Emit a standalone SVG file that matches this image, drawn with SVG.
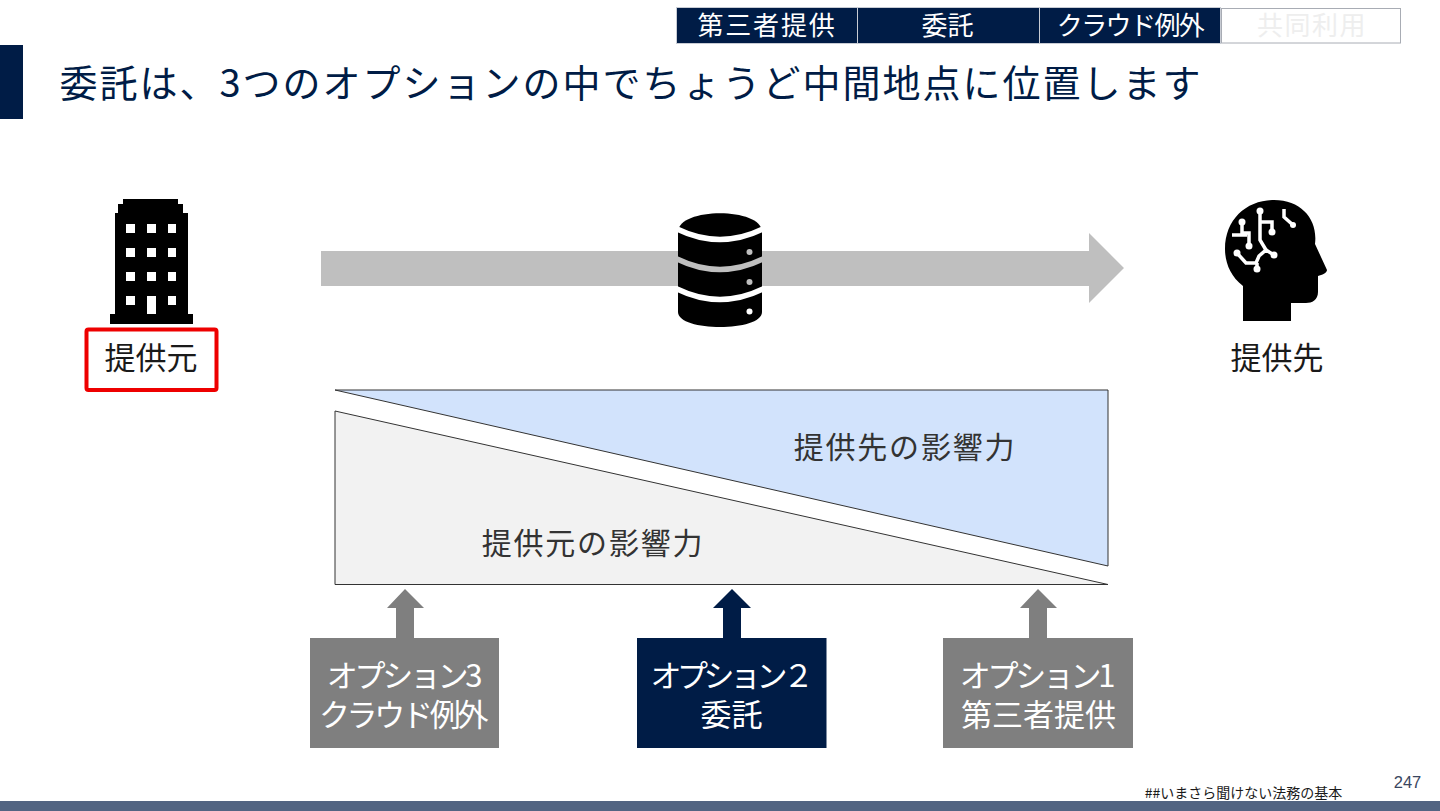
<svg xmlns="http://www.w3.org/2000/svg" width="1440" height="811" viewBox="0 0 1440 811">
<style>
text{font-family:"Noto Sans CJK JP","Liberation Sans",sans-serif;text-anchor:middle}
.tab{fill:#001c46;stroke:#c8ccd4;stroke-width:1}
.tt{fill:#fff;font-size:26px}
.box{font-size:31px;fill:#fff}
.kana{letter-spacing:-3.300px}
.lbl{font-size:31px;fill:#1a1a1a}
.tri{font-size:30px;fill:#333;letter-spacing:1.800px}
.band{fill:none;stroke-width:5.500px}
</style>
<rect width="1440" height="811" fill="#fff"/>
<g id="tabs">
<g id="tab1"><rect class="tab" x="676.500" y="7.500" width="181" height="36"/><text class="tt" x="767" y="35" letter-spacing="1.800">第三者提供</text></g>
<g id="tab2"><rect class="tab" x="857.500" y="7.500" width="182" height="36"/><text class="tt" x="947.500" y="35">委託</text></g>
<g id="tab3"><rect class="tab" x="1039.500" y="7.500" width="181" height="36"/><text class="tt" x="1130" y="35" letter-spacing="-1.600">クラウド例外</text></g>
<g id="tab4"><rect x="1221.500" y="8.500" width="179" height="34.500" fill="#fff" stroke="#a8acb4"/><text class="tt" x="1312" y="35" style="fill:#eeeeee" letter-spacing="1.500">共同利用</text></g>
</g>
<g id="title">
<rect x="0" y="45" width="23" height="74" fill="#001c46"/>
<text x="631" y="96.500" font-size="38" fill="#001c46" letter-spacing="2">委託は、3つのオプションの中でちょうど中間地点に位置します</text>
</g>
<g id="connectors">
<path id="flow" d="M321 251H1089V233L1124 268L1089 303V286H321Z" fill="#bfbfbf"/>
<path id="up3" d="M405 589L424 608H414V638H396V608H387Z" fill="#7f7f7f"/>
<path id="up2" d="M732 589L751 608H741V638H723V608H713Z" fill="#001c46"/>
<path id="up1" d="M1038 589L1057 608H1047V638H1029V608H1020Z" fill="#7f7f7f"/>
</g>
<g id="source">
<path d="M123 199H178V204H183V213H188V314H193V324H110V314H115V213H118V204H123Z" fill="#000"/>
<g fill="#fff">
<rect x="126" y="224" width="9" height="9"/><rect x="147" y="224" width="9" height="9"/><rect x="168" y="224" width="8" height="9"/>
<rect x="126" y="248" width="9" height="9"/><rect x="147" y="248" width="9" height="9"/><rect x="168" y="248" width="8" height="9"/>
<rect x="126" y="272" width="9" height="9"/><rect x="147" y="272" width="9" height="9"/><rect x="168" y="272" width="8" height="9"/>
<rect x="126" y="296" width="9" height="9"/><rect x="147" y="296" width="9" height="18"/><rect x="168" y="296" width="8" height="9"/>
</g>
<rect x="86.500" y="329.500" width="130" height="60.500" rx="2" fill="#fff" stroke="#ee0000" stroke-width="4"/>
<text class="lbl" x="151" y="369">提供元</text>
</g>
<g id="database">
<path d="M678 232C678 207 762 207 762 232V312C762 332 678 332 678 312Z" fill="#000"/>
<path class="band" stroke="#fff" d="M677 229Q720 250 763 229"/>
<path class="band" stroke="#bfbfbf" d="M677 259Q720 280 763 259"/>
<path class="band" stroke="#fff" d="M677 289Q720 310 763 289"/>
<circle cx="749.500" cy="252" r="3" fill="#bfbfbf"/><circle cx="749.500" cy="282" r="3" fill="#bfbfbf"/><circle cx="749.500" cy="311.500" r="3" fill="#fff"/>
</g>
<g id="destination">
<path d="M1243 321V286C1230 276 1225 262 1225 249C1225 219 1247 200 1274 200C1302 200 1318 220 1315 244L1327 270C1327 273 1322 275 1318 276V292C1318 300 1312 303 1306 303H1291V321Z" fill="#000"/>
<g fill="none" stroke="#fff" stroke-width="3.500">
<path d="M1260 211V240L1266 250M1260 222H1272V232"/>
<path d="M1284 209V217L1293 225"/>
<path d="M1242 222V233H1249V246M1232 235H1247"/>
<path d="M1237 253L1246 263H1256L1259 256L1266 250L1274 255M1257 263V269"/>
</g>
<g fill="#fff">
<circle cx="1260" cy="211" r="3.500"/><circle cx="1272" cy="232" r="3.500"/><circle cx="1293" cy="225" r="3"/><circle cx="1242" cy="222" r="3.500"/><circle cx="1249" cy="246" r="3.500"/><circle cx="1237" cy="253" r="3.500"/><circle cx="1274" cy="255" r="3.500"/><circle cx="1257" cy="269" r="3.500"/>
</g>
<text class="lbl" x="1277" y="369">提供先</text>
</g>
<g id="influence">
<path id="tri-dest" d="M335 390H1108V566Z" fill="#d2e3fc" stroke="#333" stroke-width="1"/>
<path id="tri-src" d="M335 411L1108 584.500H335Z" fill="#f2f2f2" stroke="#333" stroke-width="1"/>
<text class="tri" x="905" y="458">提供先の影響力</text>
<text class="tri" x="593" y="554">提供元の影響力</text>
</g>
<g id="option3"><rect x="310" y="638" width="189" height="110" fill="#7f7f7f"/><text class="box kana" x="403" y="687">オプション3</text><text class="box kana" x="402" y="726">クラウド例外</text></g>
<g id="option2"><rect x="637" y="638" width="189.500" height="110" fill="#001c46"/><text class="box kana" x="730" y="687" style="letter-spacing:-4.500px">オプション２</text><text class="box" x="731.500" y="726">委託</text></g>
<g id="option1"><rect x="943" y="638" width="190" height="110" fill="#7f7f7f"/><text class="box kana" x="1036" y="687">オプション1</text><text class="box" x="1038.500" y="726">第三者提供</text></g>
<g id="footer">
<rect x="0" y="801" width="1440" height="10" fill="#526482"/>
<text x="1243.500" y="798" font-size="14" fill="#1a1a1a">##いまさら聞けない法務の基本</text>
<text x="1407.500" y="788" font-size="16.500" fill="#3a4660" style="font-family:'Liberation Sans',sans-serif">247</text>
</g>
</svg>
